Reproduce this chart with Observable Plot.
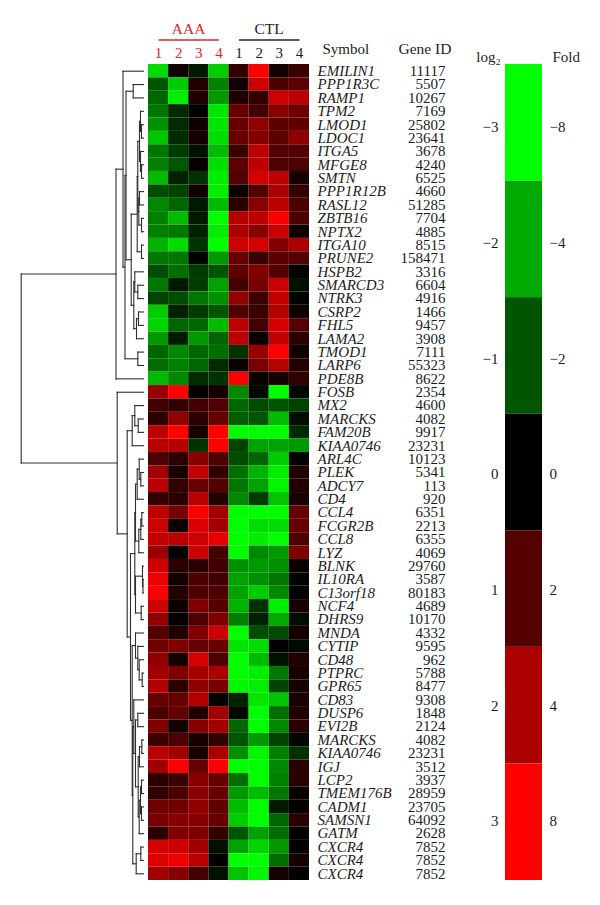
<!DOCTYPE html>
<html><head><meta charset="utf-8">
<script src="https://cdn.jsdelivr.net/npm/d3@7"></script>
<script src="https://cdn.jsdelivr.net/npm/@observablehq/plot@0.6"></script>
<style>html,body{margin:0;padding:0;background:#fff}#c{position:relative;width:600px;height:905px;overflow:hidden}</style>
</head><body><div id="c"></div>
<script>
const samples = ["A1","A2","A3","A4","C1","C2","C3","C4"];
const sampleLabels = ["1","2","3","4","1","2","3","4"];
const groups = [
  {name:"AAA", first:"A1", last:"A4", color:"#e3242b"},
  {name:"CTL", first:"C1", last:"C4", color:"#222222"}
];
const symbols = ["EMILIN1","PPP1R3C","RAMP1","TPM2","LMOD1","LDOC1","ITGA5","MFGE8","SMTN","PPP1R12B","RASL12","ZBTB16","NPTX2","ITGA10","PRUNE2","HSPB2","SMARCD3","NTRK3","CSRP2","FHL5","LAMA2","TMOD1","LARP6","PDE8B","FOSB","MX2","MARCKS","FAM20B","KIAA0746","ARL4C","PLEK","ADCY7","CD4","CCL4","FCGR2B","CCL8","LYZ","BLNK","IL10RA","C13orf18","NCF4","DHRS9","MNDA","CYTIP","CD48","PTPRC","GPR65","CD83","DUSP6","EVI2B","MARCKS","KIAA0746","IGJ","LCP2","TMEM176B","CADM1","SAMSN1","GATM","CXCR4","CXCR4","CXCR4"];
const geneIds = ["11117","5507","10267","7169","25802","23641","3678","4240","6525","4660","51285","7704","4885","8515","158471","3316","6604","4916","1466","9457","3908","7111","55323","8622","2354","4600","4082","9917","23231","10123","5341","113","920","6351","2213","6355","4069","29760","3587","80183","4689","10170","4332","9595","962","5788","8477","9308","1848","2124","4082","23231","3512","3937","28959","23705","64092","2628","7852","7852","7852"];
const expression = [
[-2.6,0.2,-0.3,-2.4,0.6,3,0.2,0.7],
[-1,-2.4,0.4,-1.5,0.2,2.4,0.9,1.1],
[-1.2,-2.8,0.4,-1.8,0.4,0.6,2.4,2.2],
[-1.4,-0.5,-0.05,-2.7,1.2,0.8,1.6,1.3],
[-1.7,-0.5,0.2,-2.7,1.2,1.7,1.1,1.1],
[-2.3,-0.5,0.25,-2.6,1.2,1.5,1.1,1.7],
[-1.4,-0.7,-0.2,-2.2,0.7,2.2,1,1],
[-1.5,-1,0.1,-2.6,1.1,2.2,0.9,0.9],
[-2.2,-0.4,-0.6,-2.8,1,2.5,2.2,0.3],
[-0.9,-0.8,0.2,-2.8,0.2,1,2,0.6],
[-1.6,-1.2,-0.3,-2.2,0.5,1.6,2.2,0.9],
[-1.5,-2.2,-0.3,-3,2.1,2.2,2.9,0.9],
[-1.5,-1.4,-0.4,-2.8,2,1.6,2.4,0.2],
[-2.1,-2.6,-0.6,-3,2.4,2.5,1.5,2],
[-1.4,-1.4,-0.05,-1.8,1.2,0.7,1.1,1],
[-0.9,-1.3,-0.7,-1,1.1,1.5,1,0.05],
[-1.4,-0.3,-0.7,-1.9,0.8,1.4,2.4,-0.2],
[-0.8,-0.9,-1.4,-1.7,1.7,0.7,2.3,-0.05],
[-2.4,-0.4,-0.7,-1,0.9,0.7,2.1,0.2],
[-2.5,-1.2,-1.2,-2.2,2.2,0.8,2.5,1],
[-1.8,-0.3,-1.8,-1.2,2.2,0.1,2.3,0.5],
[-1.2,-1.6,-1.2,-1.3,-0.6,1.8,3,0.2],
[-1.3,-1.5,-1.2,-0.5,0.1,1.4,2.1,0.4],
[-2.2,-1.6,-0.5,-0.6,3,0.1,0.3,0.6],
[1.8,3,0.05,0.3,-1.6,-0.1,-3,-0.1],
[0.8,0.6,0.8,0.9,-1.2,-0.9,-1,-0.8],
[0.5,1.7,0.5,1.2,-1.1,-1,-2.2,-0.15],
[2.2,3,0.3,3,-3,-3,-3,-0.5],
[2.2,2.1,-0.6,3,-0.8,-1.9,-1.9,-1.8],
[0.9,0.5,1.6,0.9,-0.9,-1.2,-2.4,-0.05],
[1.9,0.3,2.3,0.6,-1.3,-2.1,-2.8,0.4],
[2.2,0.6,1.2,1,-1.4,-1.9,-2.9,0.4],
[0.6,0.5,2.2,0.4,-1.6,-0.7,-2.3,0.3],
[2.2,1.4,2.9,1.9,-3,-3,-3,1.2],
[2.4,0.2,2.6,1.9,-3,-2.6,-2.6,1.2],
[2.3,2.2,2.4,2.7,-3,-2.8,-3,0.9],
[1.8,0.05,2.4,0.8,-3,-1.6,-1.8,1.5],
[2.4,0.5,0.5,0.8,-1.7,-1.8,-1.7,0.1],
[2.8,0.2,0.9,0.8,-1.9,-1.7,-1.4,-0.05],
[3,0.4,0.9,0.9,-1.9,-2.4,-1.6,0.05],
[2.4,0.15,1.5,1,-2.1,-0.6,-2.8,0.3],
[1.7,0.05,0.9,1.5,-1.5,-0.4,-2,-0.15],
[1,0.4,1.5,2.4,-3,-0.9,-0.9,0.25],
[1.3,1.5,1.2,1.2,-2.7,-2.6,0,-0.1],
[1.7,0.25,2.5,0.9,-3,-2.2,-0.2,0.4],
[1.9,1.5,1.9,2,-3,-2.8,-1.4,0.3],
[2.1,0.5,1.7,1.4,-2.9,-2.8,-0.8,0.3],
[1.2,1.2,2.1,0.05,-0.4,-2.7,-2.3,0.3],
[0.9,1.2,0.4,1.9,-0.1,-3,-1.3,0.4],
[1.5,0.25,1.6,1.9,-1.2,-3,-1.6,0.5],
[0.7,0.9,0.3,0.6,-1,-1.8,-0.8,-0.1],
[2.2,1.9,0.3,2,-1.7,-2.9,-1.5,-0.6],
[1.9,3,1.2,3,-3,-3,-1.6,0.5],
[0.5,0.7,1.6,1.2,-1.3,-3,-1.5,0.5],
[0.6,0.9,1.6,1.2,-1.8,-2.2,-1.4,0.1],
[1.3,1.3,1.7,1.1,-2.2,-3,-0.3,0.05],
[1.4,1.6,1.6,1.2,-2.4,-3,-1.2,0.5],
[0.5,1.5,1.5,0.6,-1,-1.9,-1.3,0],
[2.5,2.4,1.9,-0.2,-1.9,-2.5,-1.8,0],
[2.6,2.8,2.2,0.05,-3,-3,-1.3,0.3],
[1.9,1.6,0.8,-0.2,-2.3,-2.9,0.3,0]
];
const log2Levels = [-3,-2,-1,0,1,2,3];
const log2Labels = ["−3","−2","−1","0","1","2","3"];
const foldLabels = ["−8","−4","−2","0","2","4","8"];

// Dendrogram: [merge height, left, right]; a plain number is a leaf (1-based row)
const geneTree = [122.3,
  [27.5,
    [20.5, 1,
      [18.5,
        [17.5,
          [10.3, 2, 3],
          [12.3,
            [6.3,
              [5.7,
                [4,
                  [3, 4, [2, 5, 6]],
                  [3, 7, [2, 8, 9]]],
                [4.7, [4, 10, 11], [2, 12, 13]]],
              [2, 14, 15]],
            [9.7,
              [8.7, 16, [5.7, 17, 18]],
              [7, [5, 19, 20], 21]]]],
        [5.7, 22, 23]]],
    24],
  [26.3, 25,
    [16.3,
      [11.3,
        [8.7, 26, [5.3, 27, 28]],
        29],
      [13,
        [8.7,
          [8,
            [6.3, [4.3, 30, [2.7, 31, 32]], 33],
            [4.7, [2.7, [1.7, 34, 35], 36], 37]],
          [8,
            [1, 38, [0.5, 39, 40]],
            [2.3, 41, 42]]],
        [11.3,
          [8, 43, [5.7, 44, [4.3, 45, [1.3, 46, 47]]]],
          [10.7,
            [9.7, 48,
              [8,
                [5.7, 49, 50],
                [5.3,
                  [4, [1.7, 51, 52], 53],
                  [4.3, [3, [2, 54, 55], [2, 56, 57]], 58]]]],
            [7.3, [2.7, 59, 60], 61]]]]]]];

const font = "'Liberation Serif','Times New Roman',serif";
const ink = "#1c1c1c";
const colorScale = {type:"linear", domain:[-3,0,3], range:["#00ff00","#000000","#ff0000"]};
const base = {position:"absolute", top:"0", left:"0", background:"none", overflow:"visible", fontFamily:font};
const c = document.getElementById("c");
const heatFrame = {width:600, height:905, marginLeft:148, marginRight:291, marginTop:64, marginBottom:25};

// flatten the tree into link segments
const segments = [];
function walk(node){
  if (typeof node === "number") return {y:node-0.5, h:0};
  const [h,a,b] = node, A = walk(a), B = walk(b);
  segments.push({h1:h,y1:A.y,h2:h,y2:B.y},{h1:h,y1:A.y,h2:A.h,y2:A.y},{h1:h,y1:B.y,h2:B.h,y2:B.y});
  return {y:(A.y+B.y)/2, h};
}
walk(geneTree);

c.append(Plot.plot({
  width:148, height:905, style:base,
  x:{domain:[122.3,0], range:[20.7,143], axis:null},
  y:{domain:[0,61], range:[64,880], axis:null},
  marks:[Plot.link(segments,{x1:"h1",y1:"y1",x2:"h2",y2:"y2",stroke:"#2e2e2e",strokeWidth:1.1,strokeLinecap:"square"})]
}));

const cells = expression.flatMap((row,i)=>row.map((v,j)=>({row:i,sample:samples[j],v})));
c.append(Plot.plot({
  ...heatFrame, style:base,
  x:{domain:samples, padding:0, round:false, axis:null},
  y:{domain:d3.range(symbols.length), padding:0, round:false, axis:null},
  color:colorScale,
  marks:[
    Plot.cell(cells,{x:"sample",y:"row",fill:"v"}),
    Plot.text(symbols,{y:(d,i)=>i,text:d=>d,frameAnchor:"right",textAnchor:"start",dx:8,fontSize:15,fontStyle:"italic",fill:ink}),
    Plot.text(geneIds,{y:(d,i)=>i,text:d=>d,frameAnchor:"right",textAnchor:"end",dx:136,fontSize:15,fill:ink})
  ]
}));

// header above the heatmap
c.append(Plot.plot({
  width:600, height:64, marginLeft:148, marginRight:291, marginTop:0, marginBottom:0, style:base,
  x:{type:"band", domain:samples, padding:0, round:false, axis:null},
  y:{type:"point", domain:["group","rule","sample"], range:[28,53], padding:0, axis:null},
  marks:[
    Plot.link(groups,{x1:"first",x2:"last",y1:()=>"rule",y2:()=>"rule",stroke:"color",strokeWidth:1.4,dy:-1.5}),
    Plot.text(groups,{x:"first",y:()=>"group",text:"name",fill:"color",fontSize:15.5,dx:30}),
    Plot.text(samples,{x:d=>d,y:()=>"sample",text:(d,i)=>sampleLabels[i],fill:d=>d[0]==="A"?"#e3242b":ink,fontSize:15}),
    Plot.text(["Symbol"],{y:()=>"sample",frameAnchor:"right",textAnchor:"start",dx:13,dy:-4,fontSize:15,fill:ink}),
    Plot.text(["Gene ID"],{y:()=>"sample",frameAnchor:"right",textAnchor:"start",dx:89,dy:-4,fontSize:15.5,fill:ink})
  ]
}));

// colour key
c.append(Plot.plot({
  width:600, height:905, marginLeft:505, marginRight:58, marginTop:64, marginBottom:25, style:base,
  x:{axis:null, domain:["key"], padding:0, round:false},
  y:{domain:log2Levels, padding:0, round:false, axis:null},
  color:colorScale,
  marks:[
    Plot.cell(log2Levels,{x:()=>"key",y:d=>d,fill:d=>d}),
    Plot.text(["log₂"],{frameAnchor:"top-left",lineAnchor:"middle",textAnchor:"middle",dx:-17,dy:-7,fontSize:15,fill:ink}),
    Plot.text(["Fold"],{frameAnchor:"top-right",lineAnchor:"middle",textAnchor:"start",dx:10,dy:-7,fontSize:15,fill:ink})
  ]
}));
c.append(Plot.plot({
  width:600, height:905, marginLeft:505, marginRight:58, marginTop:127, marginBottom:84, style:base,
  y:{domain:[3,-3], axis:null},
  marks:[
    Plot.text(log2Levels,{y:d=>d,text:(d,i)=>log2Labels[i],frameAnchor:"left",textAnchor:"end",dx:-7,fontSize:15,fill:ink}),
    Plot.text(log2Levels,{y:d=>d,text:(d,i)=>foldLabels[i],frameAnchor:"right",textAnchor:"start",dx:7,fontSize:15,fill:ink})
  ]
}));
</script></body></html>
